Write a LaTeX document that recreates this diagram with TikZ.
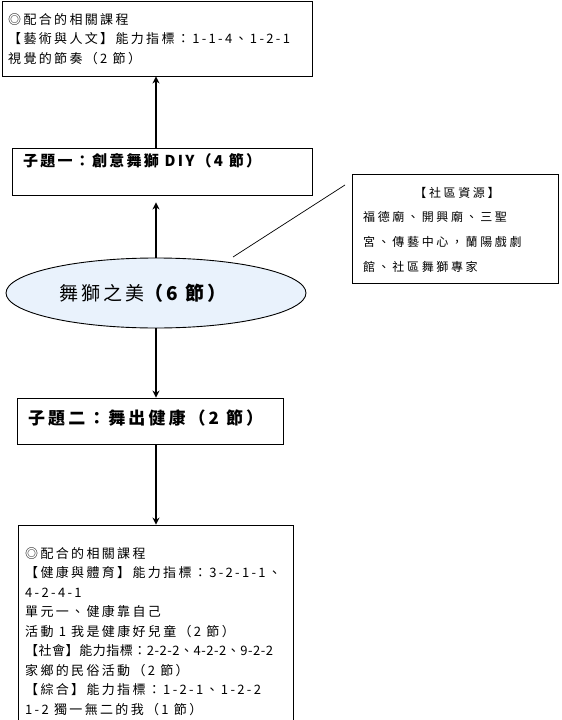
\documentclass[tikz,border=0pt]{standalone}
\usepackage{fontspec}
\setmainfont{Noto Sans CJK TC}
\usetikzlibrary{shapes.geometric,arrows.meta}
\definecolor{lionblue}{RGB}{233,242,252}

\begin{document}
\begin{tikzpicture}[x=1pt,y=-1pt,
    box/.style={draw, line width=0.9pt, inner sep=0pt},
    flow/.style={line width=1.8pt, -{Stealth[length=7pt,width=7pt]}},
    txt/.style={inner sep=0pt, align=left},
    small/.style={font=\fontsize{13}{19.5}\selectfont\addfontfeature{LetterSpace=18}},
    tiny/.style={font=\fontsize{12}{25}\selectfont\addfontfeature{LetterSpace=22}}]
    % Page and margins
    \path[use as bounding box, fill=white] (0,0) rectangle (562,720);

    % Top box: related lessons of the arts
    \node[box, minimum width=310, minimum height=75] (topbox) at (157,38.5) {};
    \node[txt, small, anchor=north west] (toptext) at (8,13)
        {◎配合的相關課程\\【藝術與人文】能力指標：1-1-4、1-2-1\\視覺的節奏（2 節）};

    % Sub topic one
    \node[box, minimum width=300, minimum height=47] (sub1) at (162,171.5) {};
    \node[txt, anchor=west, font=\fontsize{15}{18}\selectfont\bfseries\addfontfeature{LetterSpace=15}]
        (sub1text) at (23,161) {子題一：創意舞獅 DIY（4 節）};

    % Main topic
    \node[ellipse, draw, line width=0.9pt, fill=lionblue, minimum width=300, minimum height=70,
        font=\fontsize{19}{22}\selectfont\addfontfeature{LetterSpace=16}]
        (lion) at (156,293) {舞獅之美{\bfseries（6 節）}\hspace*{26pt}};

    % Sub topic two
    \node[box, minimum width=266, minimum height=46] (sub2) at (150,421) {};
    \node[txt, anchor=west, font=\fontsize{17}{20}\selectfont\bfseries\addfontfeature{LetterSpace=18}]
        (sub2text) at (28,418) {子題二：舞出健康（2 節）};

    % Bottom box: related lessons of health, society, integration
    \node[box, minimum width=275, minimum height=210] (botbox) at (155.5,630) {};
    \node[txt, small, anchor=north west] (bottext) at (25,547)
        {◎配合的相關課程\\【健康與體育】能力指標：3-2-1-1、\\4-2-4-1\\單元一、健康靠自己\\
         活動 1 我是健康好兒童（2 節）\\{\addfontfeature{LetterSpace=4}【社會】能力指標：2-2-2、4-2-2、9-2-2}\\
         家鄉的民俗活動（2 節）\\【綜合】能力指標：1-2-1、1-2-2\\1-2 獨一無二的我（1 節）};

    % Community resources
    \node[box, minimum width=206, minimum height=109] (res) at (455,228.5) {};
    \node[txt, tiny, anchor=center] (restitle) at (457,193) {【社區資源】};
    \node[txt, tiny, anchor=north west] (restext) at (363,211)
        {福德廟、開興廟、三聖\\宮、傳藝中心，蘭陽戲劇\\館、社區舞獅專家};

    % Draw connectors
    \draw[flow, shorten >=7pt] (lion.north) -- (lion.north |- sub1.south);
    \draw[flow] (lion.north |- sub1.north) -- (lion.north |- topbox.south);
    \draw[flow] (lion.south) -- (lion.south |- sub2.north);
    \draw[flow] (lion.south |- sub2.south) -- (lion.south |- botbox.north);
    \coordinate (lionend) at (233,257);
    \coordinate (resend) at (345,185);
    \draw[line width=0.7pt] (lionend) -- (resend);
\end{tikzpicture}
\end{document}
